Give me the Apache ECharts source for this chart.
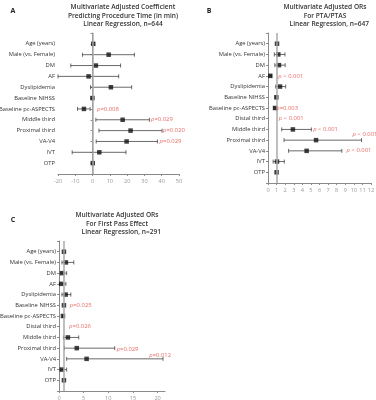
<!DOCTYPE html>
<html>
<head>
<meta charset="utf-8">
<script src="https://cdn.jsdelivr.net/npm/echarts@6/dist/echarts.min.js"></script>
<style>
  html, body { margin: 0; padding: 0; background: #fff; }
  #main { width: 376px; height: 400px; }
</style>
</head>
<body>
<div id="main"></div>
<script>
  // 行标签
  var rowsA = ['Age (years)', 'Male (vs. Female)', 'DM', 'AF', 'Dyslipidemia', 'Baseline NIHSS',
    'Baseline pc-ASPECTS', 'Middle third', 'Proximal third', 'VA-V4', 'IVT', 'OTP'];
  var rowsBC = ['Age (years)', 'Male (vs. Female)', 'DM', 'AF', 'Dyslipidemia', 'Baseline NIHSS',
    'Baseline pc-ASPECTS', 'Distal third', 'Middle third', 'Proximal third', 'VA-V4', 'IVT', 'OTP'];

  // A: coefficient, CI
  var estA = [0.4, 9.3, 1.9, -2.3, 10.6, -0.1, -5.0, 17.4, 22.0, 19.7, 3.9, 0.1];
  var loA  = [0.1, -5.8, -12.6, -20, -1.2, -0.4, -8.7, 1.9, 3.7, 2.1, -11.8, -0.2];
  var hiA  = [0.7, 24.2, 16.2, 15.1, 22.6, 0.2, -1.4, 32.9, 40.2, 37.5, 19.3, 0.4];
  var pA = [[2.3, 6, 'p=0.008'], [33.5, 7, 'p=0.029'], [40.5, 8, 'p=0.020'], [38.5, 9, 'p=0.029']];

  // B: ORs
  var estB = [1.05, 1.2, 1.28, 0.27, 1.4, 0.97, 0.82, null, 2.9, 5.6, 4.5, 1.05, 1.0];
  var loB  = [1.0, 0.74, 0.8, 0.15, 0.9, 0.93, 0.7, null, 1.6, 1.87, 2.4, 0.6, 0.97];
  var hiB  = [1.1, 1.98, 2.0, 0.4, 2.06, 1.01, 0.95, null, 5.05, 10.9, 8.6, 1.9, 1.03];
  var pB = [[1.15, 3, 'p < 0.001'], [0.9, 6, 'p=0.003'], [1.2, 7, 'p < 0.001'],
    [5.2, 8, 'p < 0.001'], [9.8, 8.5, 'p < 0.001'], [9.1, 9.95, 'p < 0.001']];

  // C: ORs
  var estC = [1.0, 1.4, 0.67, 0.47, 1.35, 1.0, 0.8, null, 1.8, 3.6, 5.6, 0.6, 1.0];
  var loC  = [0.95, 0.6, 0.2, 0.07, 0.6, 0.97, 0.75, null, 0.9, 1.1, 1.55, 0.2, 0.95];
  var hiC  = [1.05, 3.0, 1.55, 1.4, 2.4, 1.03, 0.85, null, 4.0, 11.3, 21.1, 1.55, 1.05];
  var pC = [[2.1, 5, 'p=0.025'], [1.95, 7, 'p=0.026'], [11.6, 9.1, 'p=0.029'], [18.2, 9.7, 'p=0.012']];

  var FONT = 'Open Sans';
  var RED = '#e0463f';

  function bars(est, lo, hi) {
    var d = [];
    est.forEach(function (v, i) { if (v !== null) d.push([lo[i], hi[i], i]); });
    return d;
  }
  function pts(est) {
    var d = [];
    est.forEach(function (v, i) { if (v !== null) d.push([v, i]); });
    return d;
  }

  function yAxisFor(rows, idx, max) {
    return {
      gridIndex: idx, type: 'value', inverse: true, min: -1, max: max, interval: 1,
      axisLine: { show: true, lineStyle: { color: '#8a8a8a', width: 1 } },
      axisTick: { show: true, length: 2, lineStyle: { color: '#8a8a8a' } },
      splitLine: { show: false },
      axisLabel: {
        margin: 3, fontSize: 5.8, color: '#333', fontFamily: FONT,
        formatter: function (v) { return rows[v] || ''; }
      }
    };
  }
  function xAxisFor(idx, min, max, interval, showMax) {
    return {
      gridIndex: idx, type: 'value', min: min, max: max, interval: interval,
      axisLine: { show: true, onZero: false, lineStyle: { color: '#8a8a8a', width: 1 } },
      axisTick: { show: true, length: 2, lineStyle: { color: '#8a8a8a' } },
      splitLine: { show: false },
      axisLabel: { margin: 4, fontSize: 5.6, color: '#999', fontFamily: FONT, showMaxLabel: showMax }
    };
  }

  function panelSeries(idx, est, lo, hi, pv, refX) {
    return [{
      type: 'custom',
      xAxisIndex: idx, yAxisIndex: idx,
      data: bars(est, lo, hi),
      encode: { x: [0, 1], y: 2 },
      renderItem: function (params, api) {
        var a = api.coord([api.value(0), api.value(2)]);
        var b = api.coord([api.value(1), api.value(2)]);
        var st = { stroke: '#444', lineWidth: 0.8 };
        return {
          type: 'group',
          children: [
            { type: 'line', shape: { x1: a[0], y1: a[1], x2: b[0], y2: b[1] }, style: st },
            { type: 'line', shape: { x1: a[0], y1: a[1] - 2, x2: a[0], y2: a[1] + 2 }, style: st },
            { type: 'line', shape: { x1: b[0], y1: b[1] - 2, x2: b[0], y2: b[1] + 2 }, style: st }
          ]
        };
      },
      z: 3
    }, {
      type: 'scatter',
      xAxisIndex: idx, yAxisIndex: idx,
      symbol: 'rect', symbolSize: 4.5,
      itemStyle: { color: '#111' },
      data: pts(est),
      markLine: {
        silent: true, symbol: 'none', label: { show: false },
        lineStyle: { color: '#aaa', width: 1.5, type: 'solid' },
        data: [{ xAxis: refX }]
      },
      z: 4
    }, {
      type: 'scatter',
      xAxisIndex: idx, yAxisIndex: idx,
      symbolSize: 1, itemStyle: { color: 'transparent' },
      silent: true,
      data: pv.map(function (p) { return [p[0], p[1], p[2]]; }),
      label: {
        show: true, position: 'right', distance: 0,
        color: RED, fontSize: 5.9, fontFamily: FONT,
        formatter: function (p) {
          var t = p.data[2];
          return '{i|p}' + t.slice(1);
        },
        rich: { i: { fontStyle: 'italic', color: RED, fontSize: 5.9, fontFamily: FONT } }
      },
      z: 5
    }];
  }

  var TFONT = '600 6.6px "Open Sans"';
  function titleText(x, y, txt) {
    return {
      type: 'text', x: x, y: y, silent: true,
      style: { text: txt, font: TFONT, fill: '#333', textAlign: 'center', lineHeight: 8.6 }
    };
  }
  function letter(x, y, txt) {
    return {
      type: 'text', x: x, y: y, silent: true,
      style: { text: txt, font: 'bold 7px "Open Sans"', fill: '#222', textAlign: 'center' }
    };
  }

  var myChart = echarts.init(document.getElementById('main'), null, { renderer: 'canvas' });
  window.addEventListener('resize', function () { myChart.resize(); });
  myChart.setOption({
    backgroundColor: '#fff',
    animation: false,
    graphic: [
      letter(13, 7, 'A'),
      titleText(123, 3, 'Multivariate Adjusted Coefficient\nPredicting Procedure Time (in min)\nLinear Regression, n=644'),
      letter(209, 7, 'B'),
      titleText(325, 3, 'Multivariate Adjusted ORs\nFor PTA/PTAS\n     Linear Regression, n=647'),
      letter(13, 216, 'C'),
      titleText(117, 211, 'Multivariate Adjusted ORs\nFor First Pass Effect\n     Linear Regression, n=291')
    ],
    grid: [
      { left: 58, top: 33, width: 121, height: 141, outerBoundsMode: 'none' },
      { left: 268, top: 33, width: 103, height: 150, outerBoundsMode: 'none' },
      { left: 59, top: 241, width: 106, height: 150, outerBoundsMode: 'none' }
    ],
    xAxis: [
      xAxisFor(0, -20, 50, 10, true),
      xAxisFor(1, 0, 12, 1, true),
      xAxisFor(2, 0, 21.5, 5, false)
    ],
    yAxis: [
      yAxisFor(rowsA, 0, 12),
      yAxisFor(rowsBC, 1, 13),
      yAxisFor(rowsBC, 2, 13)
    ],
    series: [].concat(
      panelSeries(0, estA, loA, hiA, pA, 0),
      panelSeries(1, estB, loB, hiB, pB, 1),
      panelSeries(2, estC, loC, hiC, pC, 1)
    )
  });
</script>
</body>
</html>
